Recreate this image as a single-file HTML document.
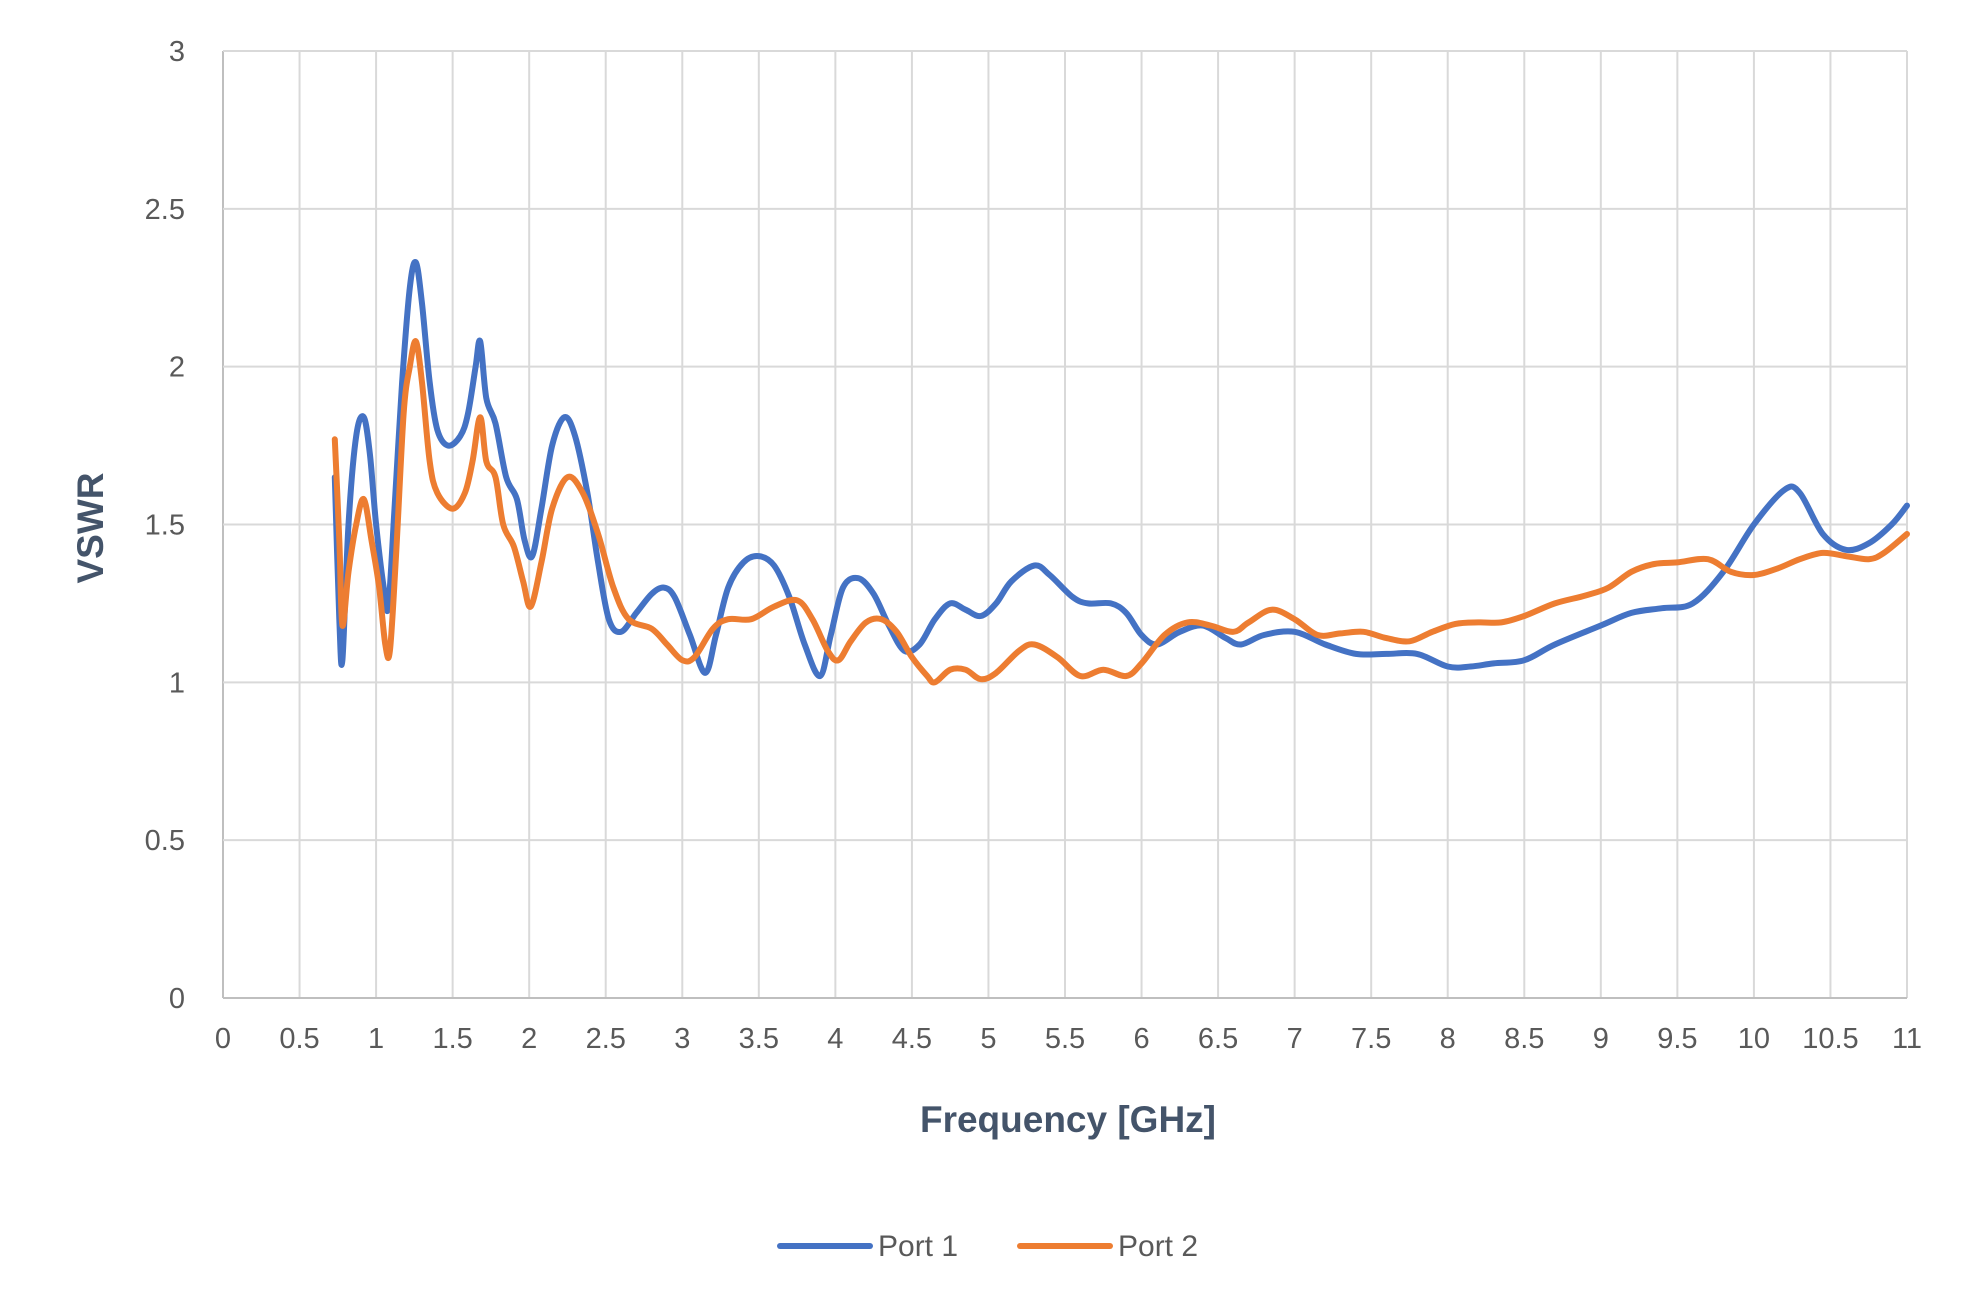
<!DOCTYPE html>
<html><head><meta charset="utf-8"><style>
html,body{margin:0;padding:0;background:#fff;}
svg text{font-family:"Liberation Sans",sans-serif;}
</style></head><body>
<svg id="chart" width="1979" height="1311" viewBox="0 0 1979 1311" xmlns="http://www.w3.org/2000/svg">
<g id="grid"></g>
<g id="ticks"></g>
<g id="series"></g>
<text x="0" y="0" transform="translate(103,528) rotate(-90)" text-anchor="middle" font-size="37" font-weight="bold" fill="#44546A">VSWR</text>
<text x="1068" y="1132" text-anchor="middle" font-size="37" font-weight="bold" fill="#44546A">Frequency [GHz]</text>
<g>
<g>
<line x1="780" y1="1246" x2="870" y2="1246" stroke="#4472C4" stroke-width="6" stroke-linecap="round"/>
<text x="878" y="1256" font-size="30" fill="#595959">Port 1</text></g>
<g>
<line x1="1020" y1="1246" x2="1110" y2="1246" stroke="#ED7D31" stroke-width="6" stroke-linecap="round"/>
<text x="1118" y="1256" font-size="30" fill="#595959">Port 2</text></g>
</g>
</svg>
<script>
const xTicks=[0,0.5,1,1.5,2,2.5,3,3.5,4,4.5,5,5.5,6,6.5,7,7.5,8,8.5,9,9.5,10,10.5,11];
const yTicks=[0,0.5,1,1.5,2,2.5,3];
const port1X=[0.73,0.76,0.78,0.82,0.87,0.92,0.96,1.0,1.05,1.08,1.12,1.17,1.22,1.26,1.3,1.35,1.4,1.47,1.55,1.6,1.65,1.68,1.72,1.78,1.85,1.92,1.97,2.02,2.08,2.15,2.23,2.3,2.38,2.45,2.52,2.6,2.7,2.8,2.88,2.95,3.05,3.15,3.22,3.3,3.4,3.5,3.6,3.7,3.8,3.9,3.97,4.05,4.15,4.25,4.35,4.45,4.55,4.65,4.75,4.85,4.95,5.05,5.15,5.3,5.4,5.55,5.65,5.8,5.9,6.0,6.1,6.25,6.4,6.55,6.65,6.8,7.0,7.2,7.4,7.6,7.8,8.0,8.15,8.3,8.5,8.7,9.0,9.2,9.4,9.6,9.8,10.0,10.2,10.3,10.45,10.6,10.75,10.9,11.0];
const port1Y=[1.65,1.2,1.07,1.5,1.78,1.84,1.72,1.5,1.3,1.24,1.55,1.95,2.25,2.33,2.2,1.95,1.8,1.75,1.78,1.85,2.0,2.08,1.9,1.82,1.65,1.58,1.45,1.4,1.55,1.75,1.84,1.78,1.6,1.38,1.2,1.16,1.22,1.28,1.3,1.27,1.15,1.03,1.15,1.3,1.38,1.4,1.37,1.27,1.12,1.02,1.15,1.3,1.33,1.28,1.18,1.1,1.12,1.2,1.25,1.23,1.21,1.25,1.32,1.37,1.34,1.27,1.25,1.25,1.22,1.15,1.12,1.16,1.18,1.14,1.12,1.15,1.16,1.12,1.09,1.09,1.09,1.05,1.05,1.06,1.07,1.12,1.18,1.22,1.235,1.25,1.35,1.5,1.61,1.6,1.47,1.42,1.44,1.5,1.56];
const port2X=[0.73,0.76,0.78,0.82,0.87,0.92,0.97,1.02,1.06,1.09,1.13,1.18,1.22,1.26,1.3,1.35,1.4,1.5,1.58,1.63,1.68,1.72,1.78,1.83,1.9,1.96,2.01,2.08,2.15,2.25,2.35,2.45,2.55,2.65,2.8,2.9,3.0,3.08,3.2,3.3,3.45,3.6,3.75,3.85,3.95,4.02,4.1,4.2,4.3,4.4,4.5,4.6,4.65,4.75,4.85,4.95,5.05,5.2,5.3,5.45,5.6,5.75,5.9,6.0,6.15,6.3,6.45,6.6,6.7,6.85,7.0,7.15,7.3,7.45,7.6,7.75,7.9,8.05,8.2,8.35,8.5,8.7,8.9,9.05,9.2,9.35,9.5,9.7,9.85,10.0,10.15,10.3,10.45,10.6,10.75,10.85,11.0];
const port2Y=[1.77,1.45,1.18,1.35,1.5,1.58,1.45,1.3,1.12,1.1,1.4,1.85,2.0,2.08,1.95,1.7,1.6,1.55,1.6,1.7,1.84,1.7,1.65,1.5,1.43,1.32,1.24,1.38,1.55,1.65,1.6,1.47,1.3,1.2,1.17,1.12,1.07,1.08,1.17,1.2,1.2,1.24,1.26,1.2,1.1,1.07,1.13,1.19,1.2,1.16,1.08,1.02,1.0,1.04,1.04,1.01,1.03,1.1,1.12,1.08,1.02,1.04,1.02,1.06,1.15,1.19,1.18,1.16,1.19,1.23,1.2,1.15,1.155,1.16,1.14,1.13,1.16,1.185,1.19,1.19,1.21,1.25,1.275,1.3,1.35,1.375,1.38,1.39,1.35,1.34,1.36,1.39,1.41,1.4,1.39,1.41,1.47];
const L=223,R=1907,T=51,B=998;
function sx(v){return L+(v-0)/(11-0)*(R-L);}
function sy(v){return B-(v-0)/(3-0)*(B-T);}
const NS='http://www.w3.org/2000/svg';
const grid=document.getElementById('grid'),ticks=document.getElementById('ticks'),series=document.getElementById('series');
function mk(t,a){const e=document.createElementNS(NS,t);for(const k in a)e.setAttribute(k,a[k]);return e;}
xTicks.forEach(v=>{
 const l=mk('line',{x1:sx(v),x2:sx(v),y1:T,y2:B,stroke:v===0?'#BFBFBF':'#D9D9D9','stroke-width':2});
 
 
 grid.appendChild(l);
 const t=mk('text',{x:sx(v),y:B+50,'text-anchor':'middle','font-size':29,fill:'#595959'});
 t.textContent=v;
 
 
 ticks.appendChild(t);
});
yTicks.forEach(v=>{
 const l=mk('line',{x1:L,x2:R,y1:sy(v),y2:sy(v),stroke:v===0?'#BFBFBF':'#D9D9D9','stroke-width':2});
 
 
 grid.appendChild(l);
 const t=mk('text',{x:L-38,y:sy(v)+10,'text-anchor':'end','font-size':29,fill:'#595959'});
 t.textContent=v;
 
 
 ticks.appendChild(t);
});
function draw(xs,ys,color,name){
 const P=xs.map((x,i)=>[sx(x),sy(ys[i])]);
 let d='M'+P[0][0].toFixed(1)+','+P[0][1].toFixed(1);
 for(let i=0;i<P.length-1;i++){
  const p0=P[i-1]||P[i],p1=P[i],p2=P[i+1],p3=P[i+2]||p2;
  const c1=[p1[0]+(p2[0]-p0[0])/6,p1[1]+(p2[1]-p0[1])/6];
  const c2=[p2[0]-(p3[0]-p1[0])/6,p2[1]-(p3[1]-p1[1])/6];
  d+=' C'+c1[0].toFixed(1)+','+c1[1].toFixed(1)+' '+c2[0].toFixed(1)+','+c2[1].toFixed(1)+' '+p2[0].toFixed(1)+','+p2[1].toFixed(1);
 }
 const p=mk('path',{d:d,fill:'none',stroke:color,'stroke-width':6,'stroke-linejoin':'round','stroke-linecap':'round'});
 
 
 series.appendChild(p);
}
draw(port1X,port1Y,'#4472C4','port-1-line');
draw(port2X,port2Y,'#ED7D31','port-2-line');
</script>
</body></html>
